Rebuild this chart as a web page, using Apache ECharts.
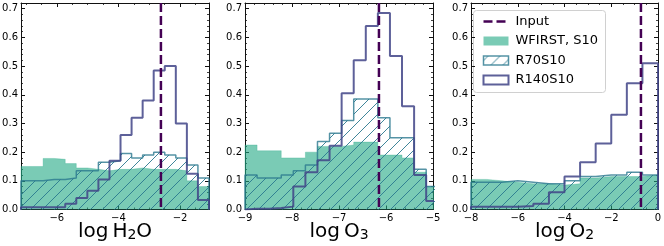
<!DOCTYPE html>
<html><head><meta charset="utf-8">
<script src="https://cdn.jsdelivr.net/npm/echarts@6/dist/echarts.min.js"></script>
<style>html,body{margin:0;padding:0;background:#fff}#c{width:664px;height:246px}</style>
</head><body><div id="c"></div>
<script>
// ---- data ----
const h2oGreen = [0.15, 0.15, 0.178, 0.175, 0.16, 0.145, 0.14, 0.135, 0.14, 0.14, 0.145, 0.14, 0.14, 0.14, 0.135, 0.10, 0.08];
const h2oTeal  = [0.10, 0.10, 0.105, 0.105, 0.11, 0.135, 0.135, 0.165, 0.17, 0.195, 0.18, 0.19, 0.20, 0.19, 0.18, 0.155, 0.11];
const h2oNavy  = [0.008, 0.008, 0.008, 0.008, 0.02, 0.04, 0.065, 0.105, 0.17, 0.26, 0.32, 0.38, 0.485, 0.50, 0.30, 0.125, 0.033];

const o3Green = [0.225, 0.205, 0.205, 0.18, 0.18, 0.20, 0.22, 0.22, 0.225, 0.235, 0.235, 0.19, 0.19, 0.18, 0.13, 0.08];
const o3Teal  = [0.12, 0.11, 0.11, 0.12, 0.135, 0.155, 0.237, 0.266, 0.31, 0.385, 0.385, 0.32, 0.25, 0.25, 0.14, 0.08];
const o3Navy  = [0.003, 0.003, 0.005, 0.01, 0.08, 0.13, 0.172, 0.222, 0.405, 0.52, 0.64, 0.685, 0.535, 0.36, 0.12, 0.03];

const o2Green = [0.105, 0.10, 0.095, 0.09, 0.09, 0.085, 0.09, 0.11, 0.115, 0.115, 0.115, 0.12];
const o2Teal  = [0.095, 0.095, 0.10, 0.095, 0.09, 0.09, 0.10, 0.115, 0.12, 0.12, 0.13, 0.12];
const o2Navy  = [0.01, 0.01, 0.01, 0.012, 0.02, 0.06, 0.115, 0.165, 0.23, 0.33, 0.44, 0.51];

const inputValues = [-2.62, -6.15, -0.73];
const binStart = [-7.16, -9, -8];
const binWidth = [0.3588, 0.257, 0.6667];
const xMin = [-7.16, -9, -8];
const xMax = [-1.06, -5, 0];
const xMajor = [2, 1, 2];
const xMinor = [0.5, 0.2, 0.5];
const yMax = 0.72, yMajor = 0.1, yMinor = 0.02;
const molecules = [['H', '2', 'O'], ['O', '3', ''], ['O', '2', '']];
const legendLabels = ['Input', 'WFIRST, S10', 'R70S10', 'R140S10'];

const greens = [h2oGreen, o3Green, o2Green];
const teals = [h2oTeal, o3Teal, o2Teal];
const navys = [h2oNavy, o3Navy, o2Navy];

// ---- styles ----
const FONT = 'DejaVu Sans';
const C_INPUT = '#440154';
const C_NAVY = 'rgba(65,68,135,0.85)';
const C_TEAL = 'rgba(42,120,142,0.8)';
const C_GREEN = 'rgba(34,168,132,0.6)';

const pc = document.createElement('canvas');
pc.width = 12; pc.height = 12;
const ctx = pc.getContext('2d');
ctx.strokeStyle = '#2a788e'; ctx.lineWidth = 0.9;
ctx.beginPath();
ctx.moveTo(0, 12); ctx.lineTo(12, 0);
ctx.moveTo(-6, 6); ctx.lineTo(6, -6);
ctx.moveTo(6, 18); ctx.lineTo(18, 6);
ctx.stroke();
const hatch = { image: pc, repeat: 'repeat' };

const gridBase = { top: 3, height: 206.5, containLabel: false, outerBoundsMode: 'none' };
const grids = [
  Object.assign({ left: 21, width: 188 }, gridBase),
  Object.assign({ left: 245, width: 188 }, gridBase),
  Object.assign({ left: 471, width: 187 }, gridBase)
];

function fmtX(v) {
  if (Math.abs(v - Math.round(v)) > 1e-6) return '';
  return String(Math.round(v)).replace('-', '\u2212');
}
function fmtY(v) {
  if (Math.abs(v * 10 - Math.round(v * 10)) > 1e-6 || v > 0.705) return '';
  return v.toFixed(1);
}

const xAxes = [], yAxes = [];
for (let g = 0; g < 3; g++) {
  const m = molecules[g];
  const nm = '{n|log\u2009' + m[0] + '}{s|' + m[1] + '}' + (m[2] ? '{n|' + m[2] + '}' : '');
  const base = { type: 'value', gridIndex: g, min: xMin[g], max: xMax[g], splitLine: { show: false } };
  ['bottom', 'top'].forEach((pos) => {
    xAxes.push(Object.assign({}, base, {
      position: pos, minInterval: xMajor[g], maxInterval: xMajor[g],
      axisLine: { show: true, onZero: false, lineStyle: { color: '#111', width: 1 } },
      axisTick: { show: true, inside: true, length: 4, lineStyle: { color: '#111', width: 1 } },
      axisLabel: pos === 'bottom'
        ? { show: true, formatter: fmtX, fontSize: 10, color: '#000', margin: 4, fontFamily: FONT }
        : { show: false },
      name: pos === 'bottom' ? nm : '',
      nameLocation: 'middle', nameGap: 10, nameMoveOverlap: false,
      nameTextStyle: {
        verticalAlign: 'top',
        rich: {
          n: { fontSize: 20, fontFamily: FONT, color: '#000', lineHeight: 24 },
          s: { fontSize: 14, fontFamily: FONT, color: '#000', lineHeight: 14, verticalAlign: 'bottom', padding: [0, 0, 1, 0] }
        }
      }
    }));
    xAxes.push(Object.assign({}, base, {
      position: pos, minInterval: xMinor[g], maxInterval: xMinor[g],
      axisLine: { show: false, onZero: false },
      axisTick: { show: true, inside: true, length: 2, lineStyle: { color: '#111', width: 0.8 } },
      axisLabel: { show: false }
    }));
  });
  const ybase = { type: 'value', gridIndex: g, min: 0, max: yMax, splitLine: { show: false } };
  ['left', 'right'].forEach((pos) => {
    yAxes.push(Object.assign({}, ybase, {
      position: pos, minInterval: yMajor, maxInterval: yMajor,
      axisLine: { show: true, onZero: false, lineStyle: { color: '#111', width: 1 } },
      axisTick: { show: true, inside: true, length: 4, lineStyle: { color: '#111', width: 1 } },
      axisLabel: pos === 'left'
        ? { show: true, formatter: fmtY, fontSize: 10, color: '#000', margin: 3, fontFamily: FONT }
        : { show: false }
    }));
    yAxes.push(Object.assign({}, ybase, {
      position: pos, minInterval: yMinor, maxInterval: yMinor,
      axisLine: { show: false, onZero: false },
      axisTick: { show: true, inside: true, length: 2, lineStyle: { color: '#111', width: 0.8 } },
      axisLabel: { show: false }
    }));
  });
}

function histData(start, width, vals) {
  const d = [[start, 0]];
  vals.forEach((v, i) => d.push([start + i * width, v]));
  const end = start + vals.length * width;
  d.push([end, vals[vals.length - 1]]);
  d.push([end, 0]);
  return d;
}

const series = [];
for (let g = 0; g < 3; g++) {
  const common = { type: 'line', xAxisIndex: g * 4, yAxisIndex: g * 4, step: 'end', symbol: 'none', showSymbol: false, silent: true, clip: true, animation: false };
  series.push(Object.assign({}, common, {
    data: histData(binStart[g], binWidth[g], greens[g]),
    lineStyle: { width: 0.8, color: 'rgba(34,168,132,0.35)' },
    areaStyle: { color: C_GREEN, opacity: 1 }, z: 2
  }));
  series.push(Object.assign({}, common, {
    data: histData(binStart[g], binWidth[g], teals[g]),
    lineStyle: { width: 1.5, color: C_TEAL },
    areaStyle: { color: hatch, opacity: 1 }, z: 3
  }));
  series.push(Object.assign({}, common, {
    data: histData(binStart[g], binWidth[g], navys[g]),
    lineStyle: { width: 2, color: C_NAVY }, z: 4
  }));
  series.push({
    type: 'line', xAxisIndex: g * 4, yAxisIndex: g * 4, symbol: 'none', silent: true, animation: false,
    data: [[inputValues[g], yMax], [inputValues[g], 0]],
    lineStyle: { width: 2.5, color: C_INPUT, type: [9, 4] }, z: 5
  });
}

// legend (drawn as graphic elements inside panel 3)
const LX = 473, LY = 10;
const legend = {
  type: 'group', left: LX, top: LY, z: 100,
  children: [
    { type: 'rect', shape: { x: 0, y: 0, width: 132, height: 82, r: 3 }, style: { fill: 'rgba(255,255,255,0.85)', stroke: '#d0d0d0', lineWidth: 1 } },
    { type: 'line', shape: { x1: 10, y1: 11, x2: 35, y2: 11 }, style: { stroke: C_INPUT, lineWidth: 2.5, lineDash: [9, 4] } },
    { type: 'rect', shape: { x: 10, y: 26, width: 25, height: 9 }, style: { fill: C_GREEN } },
    { type: 'rect', shape: { x: 10, y: 45.5, width: 25, height: 9 }, style: { fill: hatch, stroke: C_TEAL, lineWidth: 1.5 } },
    { type: 'rect', shape: { x: 10, y: 65, width: 25, height: 9 }, style: { fill: 'none', stroke: C_NAVY, lineWidth: 2 } }
  ].concat(legendLabels.map((t, i) => ({
    type: 'text', x: 42, y: 11 + i * 19.5,
    style: { text: t, font: '13px "DejaVu Sans"', fill: '#000', verticalAlign: 'middle', align: 'left' }
  })))
};

const chart = echarts.init(document.getElementById('c'), null, { renderer: 'canvas' });
chart.setOption({
  animation: false,
  backgroundColor: '#fff',
  grid: grids,
  xAxis: xAxes,
  yAxis: yAxes,
  series: series,
  graphic: [legend]
});
</script></body></html>
